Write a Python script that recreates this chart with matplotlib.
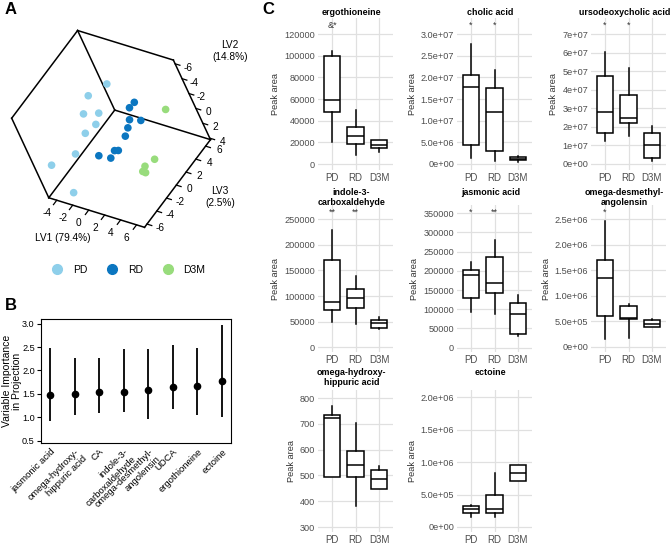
import matplotlib.pyplot as plt
from matplotlib.lines import Line2D
import matplotlib.transforms as mtransforms
import numpy as np

plt.rcParams['font.family'] = ['Liberation Sans', 'DejaVu Sans']

W, H = 672, 544


def px_box(left, top, right, bottom):
    # pixel rectangle -> figure fraction [l, b, w, h]
    return [left / W, 1 - bottom / H, (right - left) / W, (bottom - top) / H]


# ---------------- panel A: PLS-DA scores ----------------
group_names = ['PD', 'RD', 'D3M']
group_colors = ['#8ecfea', '#0b76c0', '#98dc7c']

pd_lv1 = [-3.1, -2.8, -2.8, -3.0, -2.6, -2.9, -2.5, -2.6, -2.4]
pd_lv2 = [-0.9, -2.3, 0.3, -1.1, 0.7, 0.6, 0.8, -0.8, 3.7]
pd_lv3 = [5.9, 2.6, 2.9, 1.1, 1.7, 0.1, -2.7, -6.3, -5.3]

rd_lv1 = [-0.1, 0.1, 0.1, 0.2, 0.0, 0.1, 0.3, 0.2, 0.3, 0.1]
rd_lv2 = [0.4, 0.1, 1.1, 2.3, 1.7, 2.0, 2.2, 1.9, 2.0, 0.7]
rd_lv3 = [5.7, 4.6, 3.9, 5.2, 3.3, 2.4, 0.5, 0.1, -0.9, -2.1]

d3m_lv1 = [4.0, 4.2, 4.4, 4.3, 4.4]
d3m_lv2 = [0.0, 2.7, 2.0, 2.3, 2.6]
d3m_lv3 = [5.7, 1.2, -0.6, -1.1, -0.9]

lv1_lim = (-5.0, 7.0)
lv2_lim = (-6.5, 4.2)
lv3_lim = (-6.5, 7.0)
lv1_ticks = [-4, -2, 0, 2, 4, 6]
lv2_ticks = [-6, -4, -2, 0, 2, 4]
lv3_ticks = [-6, -4, -2, 0, 2, 4, 6]

# ---------------- panel B: VIP scores ----------------
vip_names = ['jasmonic acid', 'omega-hydroxy-\nhippuric acid', 'CA',
             'indole-3-\ncarboxaldehyde', 'omega-desmethyl-\nangolensin',
             'UDCA', 'ergothioneine', 'ectoine']
vip_mean = np.array([1.48, 1.50, 1.53, 1.55, 1.58, 1.64, 1.67, 1.78])
vip_low = np.array([0.92, 1.04, 1.10, 1.12, 0.97, 1.18, 1.05, 1.00])
vip_high = np.array([2.48, 2.27, 2.26, 2.46, 2.45, 2.55, 2.48, 2.98])

# ---------------- panel C: boxplots [low whisker, Q1, median, Q3, high whisker] ----------------
ergo_stats = [[20000, 48000, 59500, 100000, 104000],
              [8000, 18500, 25500, 34500, 50000],
              [11500, 14500, 17500, 22500, 22500]]
cholic_stats = [[1.4e6, 4.4e6, 1.77e7, 2.05e7, 2.78e7],
                [0.7e6, 3.0e6, 1.2e7, 1.75e7, 2.17e7],
                [0.4e6, 0.8e6, 1.1e6, 1.6e6, 1.7e6]]
udca_stats = [[1.26e7, 1.67e7, 2.8e7, 4.75e7, 6.05e7],
              [1.53e7, 2.23e7, 2.48e7, 3.72e7, 5.18e7],
              [0.16e7, 0.3e7, 1.0e7, 1.7e7, 2.05e7]]
indole_stats = [[49000, 72000, 88000, 170000, 230000],
                [46000, 77500, 95500, 114500, 139000],
                [35000, 37500, 47000, 54000, 58500]]
jasmonic_stats = [[93000, 130000, 190000, 203000, 222000],
                  [88000, 142000, 168000, 237000, 280000],
                  [30000, 35000, 88000, 117000, 138000]]
odma_stats = [[1.6e5, 6.1e5, 1.34e6, 1.70e6, 2.47e6],
              [1.7e5, 5.4e5, 5.6e5, 8.0e5, 8.4e5],
              [3.9e5, 3.9e5, 4.5e5, 5.2e5, 5.4e5]]
ohha_stats = [[493, 493, 722, 733, 768],
              [381, 495, 541, 596, 705],
              [447, 447, 485, 520, 536]]
ectoine_stats = [[1.55e5, 2.2e5, 2.7e5, 3.2e5, 3.45e5],
                 [1.55e5, 2.15e5, 2.8e5, 4.9e5, 8.25e5],
                 [7.1e5, 7.1e5, 8.3e5, 9.6e5, 9.6e5]]

ergo_ticks = [0, 20000, 40000, 60000, 80000, 100000, 120000]
ergo_labels = ['0', '20000', '40000', '60000', '80000', '100000', '120000']
cholic_ticks = [0, 5e6, 1e7, 1.5e7, 2e7, 2.5e7, 3e7]
cholic_labels = ['0e+00', '5.0e+06', '1.0e+07', '1.5e+07', '2.0e+07', '2.5e+07', '3.0e+07']
udca_ticks = [0, 1e7, 2e7, 3e7, 4e7, 5e7, 6e7, 7e7]
udca_labels = ['0e+00', '1e+07', '2e+07', '3e+07', '4e+07', '5e+07', '6e+07', '7e+07']
indole_ticks = [0, 50000, 100000, 150000, 200000, 250000]
indole_labels = ['0', '50000', '100000', '150000', '200000', '250000']
jasmonic_ticks = [0, 50000, 100000, 150000, 200000, 250000, 300000, 350000]
jasmonic_labels = ['0', '50000', '100000', '150000', '200000', '250000', '300000', '350000']
odma_ticks = [0, 5e5, 1e6, 1.5e6, 2e6, 2.5e6]
odma_labels = ['0e+00', '5.0e+05', '1.0e+06', '1.5e+06', '2.0e+06', '2.5e+06']
ohha_ticks = [300, 400, 500, 600, 700, 800]
ohha_labels = ['300', '400', '500', '600', '700', '800']
ectoine_ticks = [0, 5e5, 1e6, 1.5e6, 2e6]
ectoine_labels = ['0e+00', '5.0e+05', '1.0e+06', '1.5e+06', '2.0e+06']

ergo_sig = ['&*', '', '']
cholic_sig = ['*', '*', '']
udca_sig = ['*', '*', '']
indole_sig = ['**', '**', '']
jasmonic_sig = ['*', '**', '']
odma_sig = ['*', '', '']
ohha_sig = ['', '', '']
ectoine_sig = ['', '', '']

fig = plt.figure(figsize=(W / 100, H / 100), dpi=100)

# ---- A ----
ax3 = fig.add_axes(px_box(-6, 18, 222, 246), projection='3d')
ax3.set_proj_type('ortho')
ax3.set_xlim(lv1_lim)
ax3.set_ylim(lv3_lim)
ax3.set_zlim(lv2_lim[1], lv2_lim[0])
ax3.set_box_aspect((1, 1, 1), zoom=0.9)
ax3.view_init(elev=44, azim=-37.5, roll=25)
ax3.set_axis_off()

xs, ys, zs = lv1_lim, lv3_lim, lv2_lim
near = (1, 0, 0)
for i in (0, 1):
    for j in (0, 1):
        for k in (0, 1):
            for a in range(3):
                idx = [i, j, k]
                if idx[a] == 1:
                    continue
                end = list(idx)
                end[a] = 1
                if tuple(idx) == near or tuple(end) == near:
                    continue
                ax3.plot([xs[idx[0]], xs[end[0]]], [ys[idx[1]], ys[end[1]]],
                         [zs[idx[2]], zs[end[2]]], color='black', lw=1.1)

xr = xs[1] - xs[0]
yr = ys[1] - ys[0]
for v in lv1_ticks:
    ax3.plot([v, v], [ys[0], ys[0] - 0.05 * yr], [zs[1], zs[1]], color='black', lw=0.9)
    ax3.text(v, ys[0] - 0.15 * yr, zs[1], str(v), ha='center', va='center', fontsize=7.3)
for v in lv3_ticks:
    ax3.plot([xs[1], xs[1] + 0.05 * xr], [v, v], [zs[1], zs[1]], color='black', lw=0.9)
    ax3.text(xs[1] + 0.14 * xr, v, zs[1], str(v), ha='center', va='center', fontsize=7.3)
for v in lv2_ticks:
    ax3.plot([xs[1], xs[1] + 0.05 * xr], [ys[1], ys[1]], [v, v], color='black', lw=0.9)
    ax3.text(xs[1] + 0.13 * xr, ys[1], v, str(v), ha='center', va='center', fontsize=7.3)

groups = [(pd_lv1, pd_lv2, pd_lv3), (rd_lv1, rd_lv2, rd_lv3), (d3m_lv1, d3m_lv2, d3m_lv3)]
for (g1, g2, g3), col in zip(groups, group_colors):
    ax3.scatter(g1, g3, g2, s=30, color=col, edgecolors='none', depthshade=False)

fig.text(63 / W, 1 - 238 / H, 'LV1 (79.4%)', ha='center', va='center', fontsize=7.3)
fig.text(230 / W, 1 - 51 / H, 'LV2\n(14.8%)', ha='center', va='center', fontsize=7.3)
fig.text(220 / W, 1 - 197 / H, 'LV3\n(2.5%)', ha='center', va='center', fontsize=7.3)

handles = [Line2D([], [], marker='o', ls='none', ms=7, color=c) for c in group_colors]
fig.legend(handles, group_names, loc='center', bbox_to_anchor=(126 / W, 1 - 270 / H),
           ncol=3, frameon=False, fontsize=7.5, handletextpad=0.5, columnspacing=1.4)

# ---- B ----
axB = fig.add_axes(px_box(41, 319, 231, 443))
xpos = np.arange(len(vip_names))
axB.errorbar(xpos, vip_mean, yerr=[vip_mean - vip_low, vip_high - vip_mean], fmt='o',
             color='black', ms=4.5, lw=1.3, capsize=0)
axB.set_xlim(-0.37, len(vip_names) - 0.63)
axB.set_ylim(0.45, 3.1)
axB.set_yticks([0.5, 1.0, 1.5, 2.0, 2.5, 3.0])
axB.set_yticklabels(['0.5', '1.0', '1.5', '2.0', '2.5', '3.0'])
axB.set_xticks(xpos)
axB.set_xticklabels(vip_names, rotation=45, ha='right', rotation_mode='anchor')
axB.tick_params(axis='x', length=0, labelsize=6.8, pad=3)
axB.tick_params(axis='y', length=3, labelsize=6.6, pad=1.5)
axB.set_ylabel('Variable Importance\nin Projection', fontsize=7.5, linespacing=0.95)
axB.yaxis.set_label_coords(-0.10, 0.5)

# ---- C ----
col_x = [(318, 393), (457, 532), (591, 666)]
row_y = [(18, 170), (205, 352), (390, 532)]
title_top = [8, 188, 368]

panels = [
    ('ergothioneine', ergo_stats, ergo_ticks, ergo_labels, ergo_sig, (-5538, 134770), 0, 0),
    ('cholic acid', cholic_stats, cholic_ticks, cholic_labels, cholic_sig, (-1.46e6, 3.378e7), 0, 1),
    ('ursodeoxycholic acid', udca_stats, udca_ticks, udca_labels, udca_sig, (-3.24e6, 7.88e7), 0, 2),
    ('indole-3-\ncarboxaldehyde', indole_stats, indole_ticks, indole_labels, indole_sig, (-9180, 277900), 1, 0),
    ('jasmonic acid', jasmonic_stats, jasmonic_ticks, jasmonic_labels, jasmonic_sig, (-11200, 371600), 1, 1),
    ('omega-desmethyl-\nangolensin', odma_stats, odma_ticks, odma_labels, odma_sig, (-1.04e5, 2.78e6), 1, 2),
    ('omega-hydroxy-\nhippuric acid', ohha_stats, ohha_ticks, ohha_labels, ohha_sig, (280.6, 832), 2, 0),
    ('ectoine', ectoine_stats, ectoine_ticks, ectoine_labels, ectoine_sig, (-77100, 2.11e6), 2, 1),
]

for title, stats, ticks, labels, sig, ylim, r, c in panels:
    l, rr = col_x[c]
    t, b = row_y[r]
    ax = fig.add_axes(px_box(l, t, rr, b))
    bstats = [dict(whislo=s[0], q1=s[1], med=s[2], q3=s[3], whishi=s[4], label=g)
              for s, g in zip(stats, group_names)]
    ax.bxp(bstats, positions=[1, 2, 3], widths=0.7, showfliers=False, showcaps=False,
           patch_artist=True,
           boxprops=dict(facecolor='white', edgecolor='black', lw=1.1),
           medianprops=dict(color='black', lw=1.1),
           whiskerprops=dict(color='black', lw=1.1))
    ax.set_xlim(0.4, 3.6)
    ax.set_ylim(ylim)
    ax.set_yticks(ticks)
    ax.set_yticklabels(labels)
    ax.set_xticks([1, 2, 3])
    ax.set_xticklabels(group_names)
    ax.grid(True, color='#e0e0e0', lw=0.9)
    ax.set_axisbelow(True)
    for sp in ax.spines.values():
        sp.set_visible(False)
    ax.tick_params(axis='y', length=0, labelsize=6.6, labelcolor='#4d4d4d', pad=2)
    ax.tick_params(axis='x', length=0, labelsize=7, labelcolor='#4d4d4d', pad=2)
    ax.set_ylabel('Peak area', fontsize=6.6, color='#333333', labelpad=3)
    trans = mtransforms.blended_transform_factory(ax.transData, ax.transAxes)
    for xi, s in zip([1, 2, 3], sig):
        if s:
            ax.text(xi, 0.95, s, transform=trans, ha='center', va='center', fontsize=6.5,
                    color='#333333')
    fig.text(((l + rr) / 2 - 4) / W, 1 - title_top[r] / H, title, ha='center', va='top',
             fontsize=6.4, fontweight='bold', linespacing=1.1)

fig.text(5 / W, 1 - 10 / H, 'A', fontsize=12, fontweight='bold', va='center')
fig.text(5 / W, 1 - 305 / H, 'B', fontsize=12, fontweight='bold', va='center')
fig.text(262 / W, 1 - 10 / H, 'C', fontsize=12, fontweight='bold', va='center')

fig.savefig('out.png', dpi=100)
